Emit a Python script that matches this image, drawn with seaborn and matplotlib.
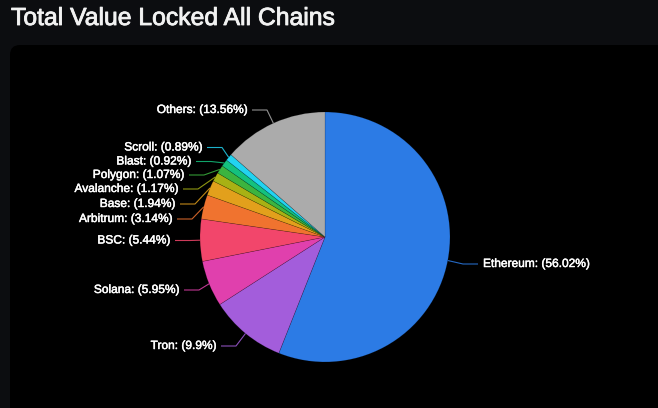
import matplotlib
matplotlib.use("Agg")
import matplotlib.pyplot as plt
import matplotlib.patheffects as pe
import seaborn as sns
import numpy as np
from matplotlib.patches import FancyBboxPatch

# ---- data ----
chains = ["Ethereum", "Tron", "Solana", "BSC", "Arbitrum", "Base",
          "Avalanche", "Polygon", "Blast", "Scroll", "Others"]
shares = [56.02, 9.9, 5.95, 5.44, 3.14, 1.94, 1.17, 1.07, 0.92, 0.89, 13.56]
colors = ["#2c7be5", "#a35ddb", "#e040ad", "#f2466b", "#f0732f", "#e2a01c",
          "#a8b114", "#3cb43f", "#14c17e", "#22d3f0", "#ababab"]
title = "Total Value Locked All Chains"

# ---- layout (pixel positions of label anchors: x of text edge, y of text centre) ----
W, H = 658, 408
pie_center_px = (325, 237)
pie_radius = 125
label_anchor_px = [(483, 264), (216, 346), (179, 290), (170, 240.5), (172, 219),
                   (175, 204), (178, 189), (184, 175), (191, 161.5), (202, 147.5),
                   (247, 110)]

sns.set_style("dark")
plt.rcParams["font.family"] = ["Liberation Sans", "DejaVu Sans"]

fig = plt.figure(figsize=(W / 100, H / 100), dpi=100)
fig.patch.set_facecolor("#0c0d10")
ax = fig.add_axes([0, 0, 1, 1])
ax.set_facecolor("#0c0d10")

def py(y):
    return H - y

# panel
panel = FancyBboxPatch((10, -20), W + 20, py(45) + 20,
                       boxstyle="round,pad=0,rounding_size=10",
                       facecolor="#000000", edgecolor="none", zorder=0)
ax.add_patch(panel)

wedges, _ = ax.pie(shares, colors=colors, startangle=90, counterclock=False,
                   center=(pie_center_px[0], py(pie_center_px[1])),
                   radius=pie_radius, wedgeprops=dict(linewidth=0.4, edgecolor="#00000040"),
                   frame=True)

for w, name, val, col, (lx, ly) in zip(wedges, chains, shares, colors, label_anchor_px):
    mid = np.deg2rad((w.theta1 + w.theta2) / 2)
    ex = w.center[0] + w.r * np.cos(mid)
    ey = w.center[1] + w.r * np.sin(mid)
    right = np.cos(mid) > 0
    yy = py(ly)
    if right:
        x0, xe = lx - 5, lx - 20
        ha = "left"
    else:
        x0, xe = lx + 5, lx + 20
        ha = "right"
    ax.plot([x0, xe, ex], [yy, yy, ey], color=col, lw=0.8, alpha=0.85,
            solid_capstyle="butt", zorder=3)
    ax.text(lx, yy, f"{name}: ({val:g}%)", ha=ha, va="center", color="white",
            fontsize=8.6, zorder=4,
            path_effects=[pe.withStroke(linewidth=0.35, foreground="white")])

ax.text(11, py(18), title, ha="left", va="center", color="#f2f2f2", fontsize=17.8,
        path_effects=[pe.withStroke(linewidth=0.6, foreground="#f2f2f2")])

ax.set_xlim(0, W)
ax.set_ylim(0, H)
ax.set_aspect("auto")
ax.set_xticks([])
ax.set_yticks([])
for s in ax.spines.values():
    s.set_visible(False)

fig.savefig("out.png", dpi=100, facecolor=fig.get_facecolor())
